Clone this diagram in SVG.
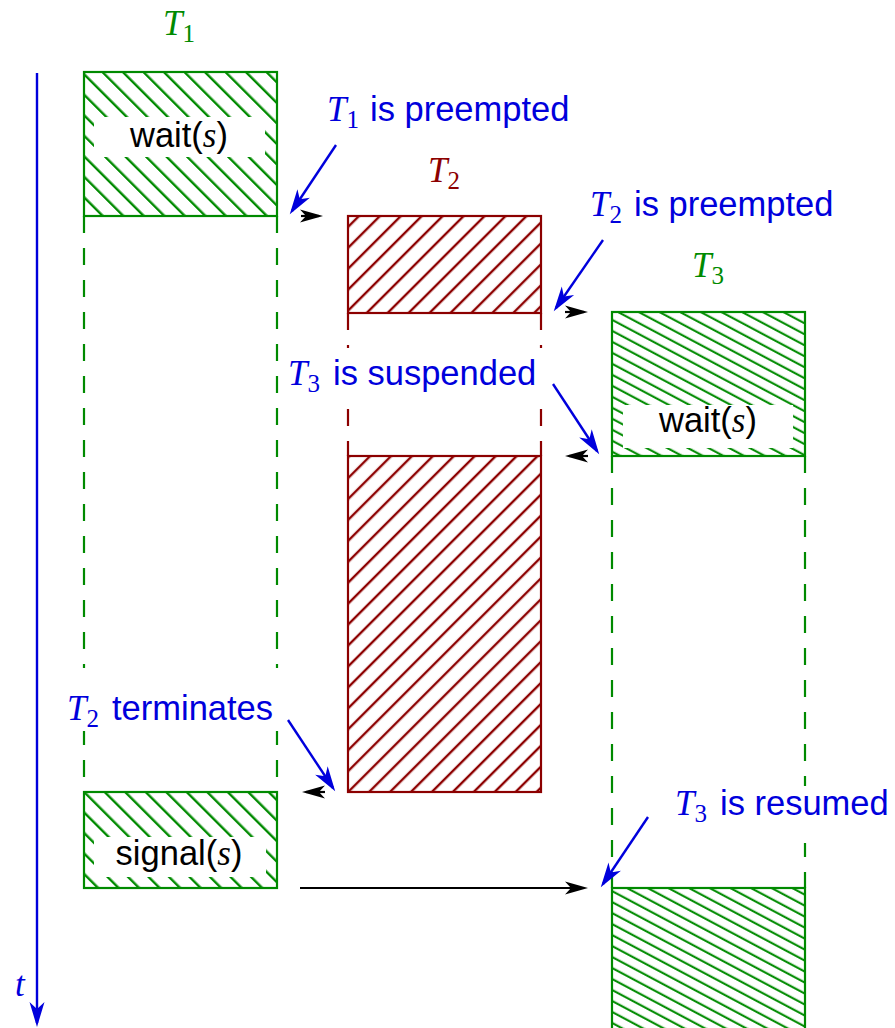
<svg xmlns="http://www.w3.org/2000/svg" width="895" height="1028" viewBox="0 0 895 1028">
  <defs>
    <style>
      .green { stroke: #008a00; }
      .red { stroke: #8c0000; }
      .box { stroke-width: 2.2; }
      .dash { stroke-width: 2.2; stroke-dasharray: 17 15; fill: none; }
      .sans { font-family: "Liberation Sans", Arial, sans-serif; font-size: 34.5px; }
      .it { font-family: "Liberation Serif", "Times New Roman", serif; font-style: italic; font-size: 35px; }
      .sub { font-family: "Liberation Serif", "Times New Roman", serif; font-size: 25px; }
      .blue { fill: #0000dc; }
      .gtext { fill: #008a00; }
      .rtext { fill: #8c0000; }
      .ptr { stroke: #0000dc; stroke-width: 2.4; fill: none; marker-end: url(#bluehead); }
      .flow { stroke: #000; stroke-width: 2.2; fill: none; marker-end: url(#blackhead); }
      .mask { fill: #fff; }
    </style>
    <!-- hatch fills -->
    <pattern id="hatchT1" patternUnits="userSpaceOnUse" width="14.5" height="10" patternTransform="rotate(-45)">
      <line x1="7" y1="-1" x2="7" y2="11" stroke="#008a00" stroke-width="2.4"/>
    </pattern>
    <pattern id="hatchT2" patternUnits="userSpaceOnUse" width="14.8" height="10" patternTransform="rotate(45)">
      <line x1="7" y1="-1" x2="7" y2="11" stroke="#8c0000" stroke-width="2.4"/>
    </pattern>
    <pattern id="hatchT3" patternUnits="userSpaceOnUse" width="9.7" height="10" patternTransform="rotate(-62)">
      <line x1="5" y1="-1" x2="5" y2="11" stroke="#008a00" stroke-width="2.1"/>
    </pattern>
    <!-- arrowheads, drawn in user units so they keep their size -->
    <marker id="blackhead" markerUnits="userSpaceOnUse" viewBox="-24 -10 30 20" refX="0" refY="0" markerWidth="30" markerHeight="20" orient="auto" overflow="visible">
      <path d="M4,0 L-19,-6.5 L-13,0 L-19,6.5 Z" fill="#000"/>
    </marker>
    <marker id="bluehead" markerUnits="userSpaceOnUse" viewBox="-26 -10 32 20" refX="0" refY="0" markerWidth="32" markerHeight="20" orient="auto" overflow="visible">
      <path d="M4,0 L-21,-7.5 L-14,0 L-21,7.5 Z" fill="#0000dc"/>
    </marker>
  </defs>

  <rect width="895" height="1028" fill="#fff"/>

  <!-- time axis -->
  <g id="time-axis">
    <line class="ptr" x1="37" y1="73" x2="37" y2="1023"/>
    <text class="it blue" x="15" y="996">t</text>
  </g>

  <!-- task T1 -->
  <g id="T1">
    <text x="163" y="35"><tspan class="it gtext">T</tspan><tspan class="sub gtext" dy="7">1</tspan></text>
    <rect class="green box" x="84" y="72" width="193" height="144" fill="url(#hatchT1)"/>
    <rect class="mask" x="94" y="117" width="171" height="40"/>
    <text x="179" y="147" text-anchor="middle"><tspan class="sans">wait(</tspan><tspan class="it">s</tspan><tspan class="sans">)</tspan></text>
    <line class="green dash" x1="84" y1="216" x2="84" y2="792"/>
    <line class="green dash" x1="277" y1="216" x2="277" y2="792"/>
    <rect class="green box" x="84" y="792" width="193" height="96" fill="url(#hatchT1)"/>
    <rect class="mask" x="94" y="837" width="172" height="40"/>
    <text x="179" y="865" text-anchor="middle"><tspan class="sans">signal(</tspan><tspan class="it">s</tspan><tspan class="sans">)</tspan></text>
  </g>

  <!-- task T2 -->
  <g id="T2">
    <text x="428" y="182"><tspan class="it rtext">T</tspan><tspan class="sub rtext" dy="7">2</tspan></text>
    <rect class="red box" x="348" y="216" width="193" height="97" fill="url(#hatchT2)"/>
    <line class="red dash" x1="348" y1="313" x2="348" y2="456"/>
    <line class="red dash" x1="541" y1="313" x2="541" y2="456"/>
    <rect class="red box" x="348" y="456" width="193" height="336" fill="url(#hatchT2)"/>
  </g>

  <!-- task T3 -->
  <g id="T3">
    <text x="692" y="277"><tspan class="it gtext">T</tspan><tspan class="sub gtext" dy="7">3</tspan></text>
    <rect class="green box" x="612" y="312" width="193" height="144" fill="url(#hatchT3)"/>
    <rect class="mask" x="623" y="405" width="170" height="43"/>
    <text x="708" y="432" text-anchor="middle"><tspan class="sans">wait(</tspan><tspan class="it">s</tspan><tspan class="sans">)</tspan></text>
    <line class="green dash" x1="612" y1="456" x2="612" y2="888"/>
    <line class="green dash" x1="805" y1="456" x2="805" y2="888"/>
    <rect class="green box" x="612" y="888" width="193" height="150" fill="url(#hatchT3)"/>
  </g>

  <!-- control transfers -->
  <g id="connectors">
    <line class="flow" x1="301" y1="216" x2="319" y2="216"/>
    <line class="flow" x1="565" y1="312" x2="584" y2="312"/>
    <line class="flow" x1="588" y1="456" x2="569" y2="456"/>
    <line class="flow" x1="325" y1="792" x2="306" y2="792"/>
    <line class="flow" x1="300" y1="888" x2="584" y2="888"/>
    <line class="ptr" x1="336" y1="145" x2="292" y2="211"/>
    <line class="ptr" x1="603" y1="240" x2="556" y2="308"/>
    <line class="ptr" x1="553" y1="384" x2="597" y2="451"/>
    <line class="ptr" x1="288" y1="720" x2="333" y2="788"/>
    <line class="ptr" x1="648" y1="817" x2="603" y2="884"/>
  </g>

  <!-- event labels -->
  <g id="label-T1-preempted">
    <text x="327" y="121"><tspan class="it blue">T</tspan><tspan class="sub blue" dy="7">1</tspan><tspan class="sans blue" x="370" dy="-7">is preempted</tspan></text>
  </g>
  <g id="label-T2-preempted">
    <text x="590" y="216"><tspan class="it blue">T</tspan><tspan class="sub blue" dy="7">2</tspan><tspan class="sans blue" x="634" dy="-7">is preempted</tspan></text>
  </g>
  <g id="label-T3-suspended">
    <rect class="mask" x="283" y="348" width="262" height="48"/>
    <text x="288" y="385"><tspan class="it blue">T</tspan><tspan class="sub blue" dy="7">3</tspan><tspan class="sans blue" x="333" dy="-7">is suspended</tspan></text>
  </g>
  <g id="label-T2-terminates">
    <rect class="mask" x="60" y="668" width="222" height="63"/>
    <text x="67" y="720"><tspan class="it blue">T</tspan><tspan class="sub blue" dy="7">2</tspan><tspan class="sans blue" x="112" dy="-7">terminates</tspan></text>
  </g>
  <g id="label-T3-resumed">
    <rect class="mask" x="670" y="786" width="225" height="57"/>
    <text x="675" y="815"><tspan class="it blue">T</tspan><tspan class="sub blue" dy="7">3</tspan><tspan class="sans blue" x="720" dy="-7">is resumed</tspan></text>
  </g>
</svg>
